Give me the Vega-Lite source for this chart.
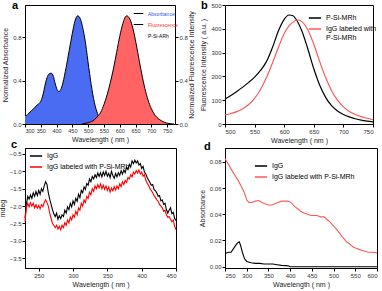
{
 "$schema": "https://vega.github.io/schema/vega-lite/v6.json",
 "autosize": "none",
 "padding": {"left": 25, "top": 5, "right": 357, "bottom": 286},
 "config": {
  "font": "Liberation Sans",
  "view": {"stroke": "black", "strokeWidth": 1},
  "axis": {"grid": false, "domainColor": "black", "tickColor": "black", "labelFontSize": 6, "labelColor": "#333", "titleFontSize": 7, "titleFontWeight": "normal", "titleColor": "#222", "tickSize": 3, "labelPadding": 1, "titlePadding": 2, "labelFont": "Liberation Sans", "titleFont": "Liberation Sans", "labelOverlap": false},
  "legend": {"orient": "none", "labelFontSize": 7, "symbolType": "stroke", "symbolSize": 150, "symbolStrokeWidth": 1.5, "rowPadding": 1, "labelFont": "Liberation Sans", "padding": 0, "labelColor": "black"},
  "title": {"fontSize": 11, "fontWeight": "bold", "anchor": "start", "frame": "group", "font": "Liberation Sans", "color": "black"}
 },
 "datasets": {
  "absA": [
   {"w":300,"v":0.08,"s":"Absorbance"},{"w":305,"v":0.08,"s":"Absorbance"},{"w":310,"v":0.095,"s":"Absorbance"},{"w":320,"v":0.12,"s":"Absorbance"},{"w":330,"v":0.15,"s":"Absorbance"},{"w":340,"v":0.18,"s":"Absorbance"},{"w":345,"v":0.19,"s":"Absorbance"},{"w":350,"v":0.21,"s":"Absorbance"},{"w":355,"v":0.25,"s":"Absorbance"},{"w":360,"v":0.31,"s":"Absorbance"},{"w":365,"v":0.38,"s":"Absorbance"},{"w":370,"v":0.43,"s":"Absorbance"},{"w":375,"v":0.46,"s":"Absorbance"},{"w":383,"v":0.47,"s":"Absorbance"},{"w":390,"v":0.44,"s":"Absorbance"},{"w":395,"v":0.38,"s":"Absorbance"},{"w":400,"v":0.33,"s":"Absorbance"},{"w":407,"v":0.30,"s":"Absorbance"},{"w":415,"v":0.33,"s":"Absorbance"},{"w":420,"v":0.38,"s":"Absorbance"},{"w":430,"v":0.52,"s":"Absorbance"},{"w":440,"v":0.68,"s":"Absorbance"},{"w":450,"v":0.84,"s":"Absorbance"},{"w":458,"v":0.95,"s":"Absorbance"},{"w":467,"v":1.0,"s":"Absorbance"},{"w":474,"v":0.98,"s":"Absorbance"},{"w":482,"v":0.90,"s":"Absorbance"},{"w":492,"v":0.74,"s":"Absorbance"},{"w":502,"v":0.52,"s":"Absorbance"},{"w":512,"v":0.32,"s":"Absorbance"},{"w":522,"v":0.17,"s":"Absorbance"},{"w":532,"v":0.08,"s":"Absorbance"},{"w":542,"v":0.03,"s":"Absorbance"},{"w":552,"v":0.01,"s":"Absorbance"},{"w":562,"v":0.0,"s":"Absorbance"}
  ],
  "fluA": [
   {"w":480,"v":0.0,"s":"Fluorescence"},{"w":490,"v":0.005,"s":"Fluorescence"},{"w":500,"v":0.012,"s":"Fluorescence"},{"w":510,"v":0.022,"s":"Fluorescence"},{"w":520,"v":0.04,"s":"Fluorescence"},{"w":530,"v":0.07,"s":"Fluorescence"},{"w":540,"v":0.11,"s":"Fluorescence"},{"w":550,"v":0.18,"s":"Fluorescence"},{"w":560,"v":0.27,"s":"Fluorescence"},{"w":570,"v":0.38,"s":"Fluorescence"},{"w":580,"v":0.51,"s":"Fluorescence"},{"w":590,"v":0.66,"s":"Fluorescence"},{"w":600,"v":0.81,"s":"Fluorescence"},{"w":610,"v":0.93,"s":"Fluorescence"},{"w":622,"v":1.0,"s":"Fluorescence"},{"w":632,"v":0.97,"s":"Fluorescence"},{"w":642,"v":0.88,"s":"Fluorescence"},{"w":652,"v":0.74,"s":"Fluorescence"},{"w":662,"v":0.58,"s":"Fluorescence"},{"w":672,"v":0.43,"s":"Fluorescence"},{"w":682,"v":0.30,"s":"Fluorescence"},{"w":692,"v":0.20,"s":"Fluorescence"},{"w":702,"v":0.13,"s":"Fluorescence"},{"w":712,"v":0.08,"s":"Fluorescence"},{"w":722,"v":0.05,"s":"Fluorescence"},{"w":732,"v":0.03,"s":"Fluorescence"},{"w":742,"v":0.015,"s":"Fluorescence"},{"w":752,"v":0.007,"s":"Fluorescence"},{"w":762,"v":0.002,"s":"Fluorescence"},{"w":772,"v":0.0,"s":"Fluorescence"}
  ],
  "dB": [
   {"w":500,"P-Si-MRh":105,"IgG labeled with P-Si-MRh":38},{"w":510,"P-Si-MRh":120,"IgG labeled with P-Si-MRh":44},{"w":520,"P-Si-MRh":137,"IgG labeled with P-Si-MRh":52},{"w":530,"P-Si-MRh":155,"IgG labeled with P-Si-MRh":64},{"w":540,"P-Si-MRh":175,"IgG labeled with P-Si-MRh":82},{"w":550,"P-Si-MRh":197,"IgG labeled with P-Si-MRh":108},{"w":560,"P-Si-MRh":225,"IgG labeled with P-Si-MRh":145},{"w":570,"P-Si-MRh":262,"IgG labeled with P-Si-MRh":195},{"w":580,"P-Si-MRh":320,"IgG labeled with P-Si-MRh":255},{"w":590,"P-Si-MRh":390,"IgG labeled with P-Si-MRh":320},{"w":600,"P-Si-MRh":440,"IgG labeled with P-Si-MRh":380},{"w":608,"P-Si-MRh":458,"IgG labeled with P-Si-MRh":412},{"w":615,"P-Si-MRh":455,"IgG labeled with P-Si-MRh":428},{"w":620,"P-Si-MRh":440,"IgG labeled with P-Si-MRh":436},{"w":625,"P-Si-MRh":418,"IgG labeled with P-Si-MRh":437},{"w":630,"P-Si-MRh":390,"IgG labeled with P-Si-MRh":430},{"w":640,"P-Si-MRh":315,"IgG labeled with P-Si-MRh":395},{"w":650,"P-Si-MRh":232,"IgG labeled with P-Si-MRh":335},{"w":660,"P-Si-MRh":163,"IgG labeled with P-Si-MRh":262},{"w":670,"P-Si-MRh":112,"IgG labeled with P-Si-MRh":195},{"w":680,"P-Si-MRh":77,"IgG labeled with P-Si-MRh":140},{"w":690,"P-Si-MRh":55,"IgG labeled with P-Si-MRh":100},{"w":700,"P-Si-MRh":40,"IgG labeled with P-Si-MRh":72},{"w":710,"P-Si-MRh":30,"IgG labeled with P-Si-MRh":53},{"w":720,"P-Si-MRh":22,"IgG labeled with P-Si-MRh":40},{"w":730,"P-Si-MRh":16,"IgG labeled with P-Si-MRh":31},{"w":740,"P-Si-MRh":12,"IgG labeled with P-Si-MRh":24},{"w":750,"P-Si-MRh":9,"IgG labeled with P-Si-MRh":18}
  ],
  "dC": [
   {"w":230,"a":-2.35,"b":-2.45},{"w":232,"a":-1.95,"b":-2.05},{"w":234,"a":-1.72,"b":-1.92},{"w":236,"a":-1.80,"b":-2.02},{"w":238,"a":-1.68,"b":-1.90},{"w":240,"a":-1.78,"b":-2.00},{"w":242,"a":-1.62,"b":-1.92},{"w":244,"a":-1.72,"b":-2.05},{"w":246,"a":-1.58,"b":-1.96},{"w":248,"a":-1.70,"b":-2.06},{"w":250,"a":-1.55,"b":-1.98},{"w":252,"a":-1.66,"b":-2.08},{"w":254,"a":-1.50,"b":-1.96},{"w":256,"a":-1.58,"b":-2.02},{"w":258,"a":-1.42,"b":-1.90},{"w":260,"a":-1.30,"b":-1.82},{"w":262,"a":-1.38,"b":-1.90},{"w":264,"a":-1.62,"b":-2.00},{"w":266,"a":-1.80,"b":-2.20},{"w":268,"a":-1.95,"b":-2.35},{"w":270,"a":-2.10,"b":-2.50},{"w":272,"a":-2.22,"b":-2.55},{"w":274,"a":-2.30,"b":-2.62},{"w":276,"a":-2.20,"b":-2.55},{"w":278,"a":-2.38,"b":-2.66},{"w":280,"a":-2.28,"b":-2.58},{"w":282,"a":-2.36,"b":-2.68},{"w":284,"a":-2.25,"b":-2.55},{"w":286,"a":-2.30,"b":-2.62},{"w":288,"a":-2.12,"b":-2.48},{"w":290,"a":-2.20,"b":-2.55},{"w":292,"a":-2.02,"b":-2.40},{"w":294,"a":-2.10,"b":-2.48},{"w":296,"a":-1.92,"b":-2.32},{"w":298,"a":-2.02,"b":-2.40},{"w":300,"a":-1.85,"b":-2.25},{"w":302,"a":-1.95,"b":-2.32},{"w":304,"a":-1.78,"b":-2.15},{"w":306,"a":-1.86,"b":-2.25},{"w":308,"a":-1.66,"b":-2.05},{"w":310,"a":-1.76,"b":-2.12},{"w":312,"a":-1.55,"b":-1.92},{"w":314,"a":-1.62,"b":-2.00},{"w":316,"a":-1.45,"b":-1.82},{"w":318,"a":-1.52,"b":-1.90},{"w":320,"a":-1.35,"b":-1.72},{"w":322,"a":-1.40,"b":-1.78},{"w":324,"a":-1.22,"b":-1.60},{"w":326,"a":-1.30,"b":-1.68},{"w":328,"a":-1.15,"b":-1.50},{"w":330,"a":-1.22,"b":-1.58},{"w":332,"a":-1.10,"b":-1.42},{"w":334,"a":-1.18,"b":-1.50},{"w":336,"a":-1.05,"b":-1.38},{"w":338,"a":-1.15,"b":-1.48},{"w":340,"a":-1.04,"b":-1.36},{"w":342,"a":-1.16,"b":-1.50},{"w":344,"a":-1.02,"b":-1.40},{"w":346,"a":-1.12,"b":-1.52},{"w":348,"a":-1.00,"b":-1.42},{"w":350,"a":-1.14,"b":-1.55},{"w":352,"a":-1.06,"b":-1.45},{"w":354,"a":-1.18,"b":-1.60},{"w":356,"a":-1.00,"b":-1.48},{"w":358,"a":-1.12,"b":-1.56},{"w":360,"a":-1.20,"b":-1.44},{"w":362,"a":-1.06,"b":-1.54},{"w":364,"a":-1.16,"b":-1.42},{"w":366,"a":-1.04,"b":-1.50},{"w":368,"a":-1.12,"b":-1.36},{"w":370,"a":-0.98,"b":-1.44},{"w":372,"a":-1.08,"b":-1.30},{"w":374,"a":-0.96,"b":-1.38},{"w":376,"a":-1.04,"b":-1.26},{"w":378,"a":-0.88,"b":-1.32},{"w":380,"a":-0.95,"b":-1.18},{"w":382,"a":-0.80,"b":-1.22},{"w":384,"a":-0.88,"b":-1.10},{"w":386,"a":-0.70,"b":-1.16},{"w":388,"a":-0.78,"b":-1.02},{"w":390,"a":-0.68,"b":-1.08},{"w":392,"a":-0.76,"b":-0.98},{"w":394,"a":-0.70,"b":-1.05},{"w":396,"a":-0.82,"b":-0.96},{"w":398,"a":-0.78,"b":-1.08},{"w":400,"a":-0.92,"b":-1.02},{"w":402,"a":-0.86,"b":-1.14},{"w":404,"a":-1.02,"b":-1.10},{"w":406,"a":-1.08,"b":-1.26},{"w":408,"a":-1.18,"b":-1.34},{"w":410,"a":-1.25,"b":-1.40},{"w":412,"a":-1.32,"b":-1.50},{"w":414,"a":-1.40,"b":-1.55},{"w":416,"a":-1.38,"b":-1.62},{"w":418,"a":-1.52,"b":-1.70},{"w":420,"a":-1.56,"b":-1.75},{"w":422,"a":-1.62,"b":-1.82},{"w":424,"a":-1.72,"b":-1.86},{"w":426,"a":-1.70,"b":-1.95},{"w":428,"a":-1.85,"b":-2.00},{"w":430,"a":-1.82,"b":-2.05},{"w":432,"a":-1.95,"b":-2.15},{"w":434,"a":-1.92,"b":-2.12},{"w":436,"a":-2.10,"b":-2.25},{"w":438,"a":-2.20,"b":-2.32},{"w":440,"a":-2.12,"b":-2.30},{"w":442,"a":-2.05,"b":-2.38},{"w":444,"a":-2.22,"b":-2.45},{"w":446,"a":-2.18,"b":-2.40},{"w":448,"a":-2.35,"b":-2.58},{"w":450,"a":-2.42,"b":-2.68}
  ],
  "dD": [
   {"w":250,"v":0.010,"s":"IgG"},{"w":258,"v":0.011,"s":"IgG"},{"w":264,"v":0.011,"s":"IgG"},{"w":270,"v":0.014,"s":"IgG"},{"w":276,"v":0.017,"s":"IgG"},{"w":280,"v":0.0185,"s":"IgG"},{"w":283,"v":0.019,"s":"IgG"},{"w":286,"v":0.016,"s":"IgG"},{"w":290,"v":0.011,"s":"IgG"},{"w":295,"v":0.006,"s":"IgG"},{"w":300,"v":0.004,"s":"IgG"},{"w":310,"v":0.003,"s":"IgG"},{"w":320,"v":0.0025,"s":"IgG"},{"w":330,"v":0.0025,"s":"IgG"},{"w":340,"v":0.002,"s":"IgG"},{"w":350,"v":0.002,"s":"IgG"},{"w":360,"v":0.002,"s":"IgG"},{"w":370,"v":0.0015,"s":"IgG"},{"w":380,"v":0.001,"s":"IgG"},{"w":390,"v":0.0008,"s":"IgG"},{"w":397,"v":0.0005,"s":"IgG"},{"w":400,"v":0.0,"s":"IgG"},{"w":500,"v":0.0,"s":"IgG"},{"w":600,"v":0.0,"s":"IgG"},
   {"w":250,"v":0.0825,"s":"IgG labeled with P-Si-MRh"},{"w":258,"v":0.078,"s":"IgG labeled with P-Si-MRh"},{"w":265,"v":0.074,"s":"IgG labeled with P-Si-MRh"},{"w":272,"v":0.070,"s":"IgG labeled with P-Si-MRh"},{"w":280,"v":0.066,"s":"IgG labeled with P-Si-MRh"},{"w":288,"v":0.061,"s":"IgG labeled with P-Si-MRh"},{"w":295,"v":0.056,"s":"IgG labeled with P-Si-MRh"},{"w":300,"v":0.051,"s":"IgG labeled with P-Si-MRh"},{"w":305,"v":0.049,"s":"IgG labeled with P-Si-MRh"},{"w":312,"v":0.049,"s":"IgG labeled with P-Si-MRh"},{"w":320,"v":0.050,"s":"IgG labeled with P-Si-MRh"},{"w":328,"v":0.0505,"s":"IgG labeled with P-Si-MRh"},{"w":335,"v":0.049,"s":"IgG labeled with P-Si-MRh"},{"w":342,"v":0.048,"s":"IgG labeled with P-Si-MRh"},{"w":350,"v":0.047,"s":"IgG labeled with P-Si-MRh"},{"w":358,"v":0.047,"s":"IgG labeled with P-Si-MRh"},{"w":365,"v":0.048,"s":"IgG labeled with P-Si-MRh"},{"w":372,"v":0.049,"s":"IgG labeled with P-Si-MRh"},{"w":380,"v":0.050,"s":"IgG labeled with P-Si-MRh"},{"w":388,"v":0.050,"s":"IgG labeled with P-Si-MRh"},{"w":395,"v":0.050,"s":"IgG labeled with P-Si-MRh"},{"w":402,"v":0.049,"s":"IgG labeled with P-Si-MRh"},{"w":410,"v":0.046,"s":"IgG labeled with P-Si-MRh"},{"w":418,"v":0.044,"s":"IgG labeled with P-Si-MRh"},{"w":425,"v":0.042,"s":"IgG labeled with P-Si-MRh"},{"w":432,"v":0.041,"s":"IgG labeled with P-Si-MRh"},{"w":440,"v":0.040,"s":"IgG labeled with P-Si-MRh"},{"w":448,"v":0.039,"s":"IgG labeled with P-Si-MRh"},{"w":455,"v":0.039,"s":"IgG labeled with P-Si-MRh"},{"w":462,"v":0.039,"s":"IgG labeled with P-Si-MRh"},{"w":470,"v":0.038,"s":"IgG labeled with P-Si-MRh"},{"w":478,"v":0.038,"s":"IgG labeled with P-Si-MRh"},{"w":485,"v":0.036,"s":"IgG labeled with P-Si-MRh"},{"w":492,"v":0.034,"s":"IgG labeled with P-Si-MRh"},{"w":500,"v":0.031,"s":"IgG labeled with P-Si-MRh"},{"w":508,"v":0.028,"s":"IgG labeled with P-Si-MRh"},{"w":515,"v":0.025,"s":"IgG labeled with P-Si-MRh"},{"w":522,"v":0.022,"s":"IgG labeled with P-Si-MRh"},{"w":530,"v":0.019,"s":"IgG labeled with P-Si-MRh"},{"w":538,"v":0.017,"s":"IgG labeled with P-Si-MRh"},{"w":545,"v":0.015,"s":"IgG labeled with P-Si-MRh"},{"w":552,"v":0.014,"s":"IgG labeled with P-Si-MRh"},{"w":560,"v":0.013,"s":"IgG labeled with P-Si-MRh"},{"w":570,"v":0.012,"s":"IgG labeled with P-Si-MRh"},{"w":580,"v":0.011,"s":"IgG labeled with P-Si-MRh"},{"w":590,"v":0.011,"s":"IgG labeled with P-Si-MRh"},{"w":600,"v":0.0105,"s":"IgG labeled with P-Si-MRh"}
  ]
 },
 "columns": 2,
 "spacing": {"row": 24, "column": 49},
 "bounds": "flush",
 "resolve": {"scale": {"color": "independent"}, "legend": {"color": "independent"}},
 "concat": [
    {
     "width": 150, "height": 119,
     "title": {"text": "a", "dx": -13, "dy": 10},
     "resolve": {"scale": {"y": "independent"}},
     "encoding": {
      "x": {"field": "w", "type": "quantitative", "scale": {"domain": [300, 775]}, "axis": {"values": [300,350,400,450,500,550,600,650,700,750], "title": "Wavelength ( nm )", "labelFontSize": 5.5, "labelOverlap": false}}
     },
     "layer": [
      {
       "layer": [
        {
         "data": {"name": "absA"},
         "mark": {"type": "area", "interpolate": "monotone"},
         "encoding": {
          "y": {"field": "v", "type": "quantitative", "scale": {"domain": [0, 1.1]}, "axis": {"values": [0,0.2,0.4,0.6,0.8,1.0], "format": ".1f", "title": "Normalized Absorbance", "titlePadding": 4}},
          "color": {"field": "s", "type": "nominal", "scale": {"domain": ["Absorbance", "Fluorescence", "P-Si-ARh"], "range": ["#4a6cf2", "#ff6363", "#000000"]},
           "legend": {"title": null, "legendX": 108, "legendY": 3, "labelFontSize": 5, "symbolSize": 90, "symbolStrokeWidth": 1, "rowPadding": 2,
             "encode": {"symbols": {"update": {"stroke": {"value": "black"}, "fill": {"value": "black"}, "strokeOpacity": {"signal": "datum.value === 'P-Si-ARh' ? 0 : 1"}}},
                        "labels": {"update": {"fill": {"signal": "datum.value === 'Absorbance' ? '#3355dd' : datum.value === 'Fluorescence' ? '#ff3333' : '#000000'"}}}}}}
         }
        },
        {
         "data": {"name": "absA"},
         "mark": {"type": "line", "interpolate": "monotone", "color": "black", "strokeWidth": 1},
         "encoding": {
          "y": {"field": "v", "type": "quantitative"}
         }
        }
       ]
      },
      {
       "layer": [
        {
         "data": {"name": "fluA"},
         "mark": {"type": "area", "interpolate": "monotone"},
         "encoding": {
          "y": {"field": "v", "type": "quantitative", "scale": {"domain": [0, 1.1]}, "axis": {"orient": "right", "values": [0,0.2,0.4,0.6,0.8,1.0], "format": ".1f", "title": "Normalized Fluorescence Intensity", "titleAngle": 270, "titlePadding": 7}},
          "color": {"field": "s", "type": "nominal"}
         }
        },
        {
         "data": {"name": "fluA"},
         "mark": {"type": "line", "interpolate": "monotone", "color": "black", "strokeWidth": 1},
         "encoding": {
          "y": {"field": "v", "type": "quantitative"}
         }
        }
       ]
      }
     ]
    },
    {
     "width": 148, "height": 119,
     "title": {"text": "b", "dx": -24, "dy": 13},
     "data": {"name": "dB"},
     "transform": [{"fold": ["P-Si-MRh", "IgG labeled with P-Si-MRh"], "as": ["series", "value"]}],
     "mark": {"type": "line", "interpolate": "monotone", "strokeWidth": 1.2},
     "encoding": {
      "x": {"field": "w", "type": "quantitative", "scale": {"domain": [500, 750]}, "axis": {"values": [500,550,600,650,700,750], "title": "Wavelength ( nm )"}},
      "y": {"field": "value", "type": "quantitative", "scale": {"domain": [0, 500]}, "axis": {"values": [0,100,200,300,400,500], "title": "Fluorescence Intensity ( a.u. )", "titlePadding": 4}},
      "color": {"field": "series", "type": "nominal", "scale": {"domain": ["P-Si-MRh", "IgG labeled with P-Si-MRh"], "range": ["#000000", "#ff5a5a"]},
       "legend": {"title": null, "legendX": 83, "legendY": 6, "labelExpr": "datum.label == 'IgG labeled with P-Si-MRh' ? ['IgG labeled with', 'P-Si-MRh'] : datum.label"}}
     }
    },
    {
     "width": 151, "height": 120,
     "title": {"text": "c", "dx": -14, "dy": 6},
     "data": {"name": "dC"},
     "transform": [{"fold": ["a", "b"], "as": ["key", "value"]}, {"lookup": "key", "from": {"data": {"values": [{"key": "a", "series": "IgG"}, {"key": "b", "series": "IgG labeled with P-Si-MRh"}]}, "key": "key", "fields": ["series"]}}],
     "mark": {"type": "line", "strokeWidth": 1.1},
     "encoding": {
      "x": {"field": "w", "type": "quantitative", "scale": {"domain": [230, 450]}, "axis": {"values": [250,300,350,400,450], "title": "Wavelength ( nm )"}},
      "y": {"field": "value", "type": "quantitative", "scale": {"domain": [-3.78, -0.33]}, "axis": {"values": [-3.5,-3,-2.5,-2,-1.5,-1,-0.5], "format": ".1f", "title": "mdeg", "titlePadding": 4}},
      "color": {"field": "series", "type": "nominal", "scale": {"domain": ["IgG", "IgG labeled with P-Si-MRh"], "range": ["#000000", "#ff0000"]},
       "legend": {"title": null, "legendX": 4, "legendY": 1}}
     }
    },
    {
     "width": 152, "height": 120,
     "title": {"text": "d", "dx": -21, "dy": 8},
     "data": {"name": "dD"},
     "mark": {"type": "line", "strokeWidth": 1.1},
     "encoding": {
      "x": {"field": "w", "type": "quantitative", "scale": {"domain": [250, 600]}, "axis": {"values": [250,300,350,400,450,500,550,600], "title": "Wavelength ( nm )"}},
      "y": {"field": "v", "type": "quantitative", "scale": {"domain": [-0.001, 0.0905]}, "axis": {"values": [0,0.02,0.04,0.06,0.08], "format": ".2f", "title": "Absorbance", "titlePadding": 4}},
      "color": {"field": "s", "type": "nominal", "scale": {"domain": ["IgG", "IgG labeled with P-Si-MRh"], "range": ["#000000", "#ff5a5a"]},
       "legend": {"title": null, "legendX": 29, "legendY": 11}}
     }
    }
 ]
}
